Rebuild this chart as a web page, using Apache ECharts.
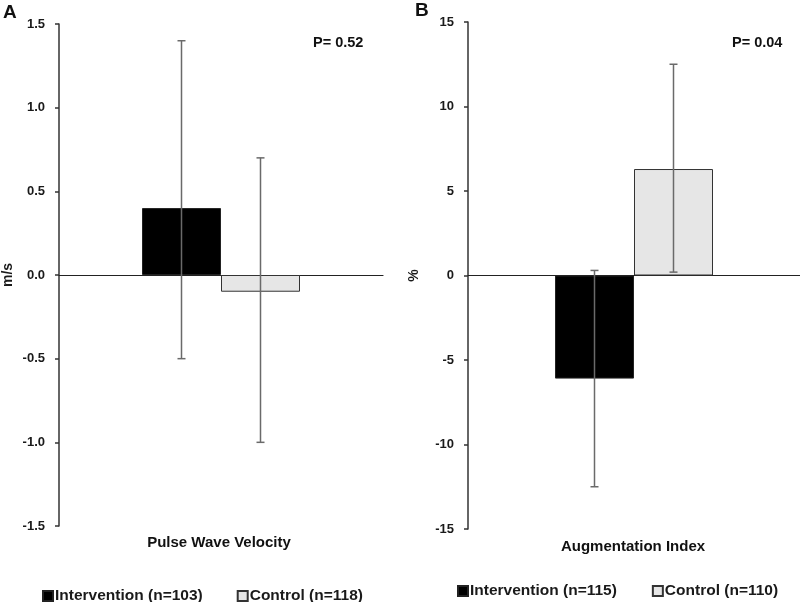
<!DOCTYPE html>
<html>
<head>
<meta charset="utf-8">
<script src="https://cdn.jsdelivr.net/npm/echarts@6/dist/echarts.min.js"></script>
<style>html,body{margin:0;padding:0;background:#fff}#c{width:800px;height:602px}</style>
</head>
<body>
<div id="c"></div>
<script>
// ---- Data ----
const categoriesA = ['Pulse Wave Velocity'];
const categoriesB = ['Augmentation Index'];
const seriesNamesA = ['Intervention (n=103)', 'Control (n=118)'];
const seriesNamesB = ['Intervention (n=115)', 'Control (n=110)'];
const pwvValues = [0.4, -0.1];          // intervention, control
const pwvErrLow = [-0.5, -1.0];
const pwvErrHigh = [1.4, 0.7];
const aixValues = [-6.1, 6.3];
const aixErrLow = [-12.5, 0.2];
const aixErrHigh = [0.3, 12.5];
const pLabelA = 'P= 0.52';
const pLabelB = 'P= 0.04';

const FONT = '"Liberation Sans", Arial, Helvetica, sans-serif';
const BAR_W = 79;
const colors = ['#000000', '#e6e6e6'];
const borders = ['#222222', '#333333'];

function errSeries(gridIdx, lows, highs) {
  const data = lows.map((l, i) => [i, l, highs[i]]);
  return {
    type: 'custom',
    xAxisIndex: gridIdx, yAxisIndex: gridIdx,
    silent: true, z: 5,
    data: data,
    renderItem: function (params, api) {
      const i = api.value(0);
      const off = (i === 0 ? -1 : 1) * BAR_W / 2;
      const lo = api.coord([0, api.value(1)]);
      const hi = api.coord([0, api.value(2)]);
      const x = lo[0] + off;
      const st = { stroke: '#6a6a6a', lineWidth: 1.5 };
      return {
        type: 'group',
        children: [
          { type: 'line', shape: { x1: x, y1: lo[1], x2: x, y2: hi[1] }, style: st },
          { type: 'line', shape: { x1: x - 4, y1: lo[1], x2: x + 4, y2: lo[1] }, style: st },
          { type: 'line', shape: { x1: x - 4, y1: hi[1], x2: x + 4, y2: hi[1] }, style: st }
        ]
      };
    }
  };
}

function barSeries(gridIdx, names, values) {
  return names.map((n, i) => ({
    name: n, type: 'bar',
    xAxisIndex: gridIdx, yAxisIndex: gridIdx,
    barWidth: BAR_W, barGap: '0%',
    data: [values[i]],
    itemStyle: { color: colors[i], borderColor: borders[i], borderWidth: 1 },
    emphasis: { disabled: true }
  }));
}

const axisLabelStyle = { color: '#1a1a1a', fontWeight: 'bold', fontSize: 13, fontFamily: FONT, margin: 14 };

const option = {
  animation: false,
  backgroundColor: '#fff',
  grid: [
    { left: 56, right: 417, top: 24, bottom: 76 },
    { left: 468, right: 0, top: 22, bottom: 73 }
  ],
  xAxis: [
    { type: 'category', gridIndex: 0, data: categoriesA,
      axisLine: { onZero: true, lineStyle: { color: '#222', width: 1.2 } },
      axisTick: { show: false }, axisLabel: { show: false } },
    { type: 'category', gridIndex: 1, data: categoriesB,
      axisLine: { onZero: true, lineStyle: { color: '#222', width: 1.2 } },
      axisTick: { show: false }, axisLabel: { show: false } }
  ],
  yAxis: [
    { type: 'value', gridIndex: 0, min: -1.5, max: 1.5, interval: 0.5,
      name: 'm/s', nameLocation: 'middle', nameGap: 44,
      nameTextStyle: { color: '#1a1a1a', fontWeight: 'bold', fontSize: 14, fontFamily: FONT },
      axisLine: { show: true, lineStyle: { color: '#333', width: 1.5 } },
      axisTick: { show: true, length: 4, lineStyle: { color: '#333', width: 1.5 } },
      splitLine: { show: false },
      axisLabel: Object.assign({ formatter: v => v.toFixed(1) }, axisLabelStyle) },
    { type: 'value', gridIndex: 1, min: -15, max: 15, interval: 5,
      name: '%', nameLocation: 'middle', nameGap: 47,
      nameTextStyle: { color: '#1a1a1a', fontWeight: 'bold', fontSize: 14, fontFamily: FONT },
      axisLine: { show: true, lineStyle: { color: '#333', width: 1.5 } },
      axisTick: { show: true, length: 4, lineStyle: { color: '#333', width: 1.5 } },
      splitLine: { show: false },
      axisLabel: axisLabelStyle }
  ],
  legend: [
    { data: seriesNamesA, left: 37, top: 583, itemWidth: 10, itemHeight: 10, itemGap: 34,
      icon: 'rect', selectedMode: false,
      textStyle: { color: '#1a1a1a', fontWeight: 'bold', fontSize: 15.5, fontFamily: FONT, padding: [0, 0, 0, -3] } },
    { data: seriesNamesB, left: 452, top: 578, itemWidth: 10, itemHeight: 10, itemGap: 35,
      icon: 'rect', selectedMode: false,
      textStyle: { color: '#1a1a1a', fontWeight: 'bold', fontSize: 15.5, fontFamily: FONT, padding: [0, 0, 0, -3] } }
  ],
  graphic: [
    { type: 'text', left: 3, top: 3, style: { text: 'A', font: 'bold 19px ' + FONT, fill: '#111' } },
    { type: 'text', left: 415, top: 1, style: { text: 'B', font: 'bold 19px ' + FONT, fill: '#111' } },
    { type: 'text', left: 313, top: 35, style: { text: pLabelA, font: 'bold 14.5px ' + FONT, fill: '#111' } },
    { type: 'text', left: 732, top: 35, style: { text: pLabelB, font: 'bold 14.5px ' + FONT, fill: '#111' } },
    { type: 'text', x: 219, y: 543, style: { text: categoriesA[0], font: 'bold 15px ' + FONT, fill: '#111', textAlign: 'center', textVerticalAlign: 'middle' } },
    { type: 'text', x: 633, y: 547, style: { text: categoriesB[0], font: 'bold 15px ' + FONT, fill: '#111', textAlign: 'center', textVerticalAlign: 'middle' } }
  ],
  series: [].concat(
    barSeries(0, seriesNamesA, pwvValues),
    [errSeries(0, pwvErrLow, pwvErrHigh)],
    barSeries(1, seriesNamesB, aixValues),
    [errSeries(1, aixErrLow, aixErrHigh)]
  )
};

const chart = echarts.init(document.getElementById('c'), null, { renderer: 'canvas' });
chart.setOption(option);
</script>
</body>
</html>
